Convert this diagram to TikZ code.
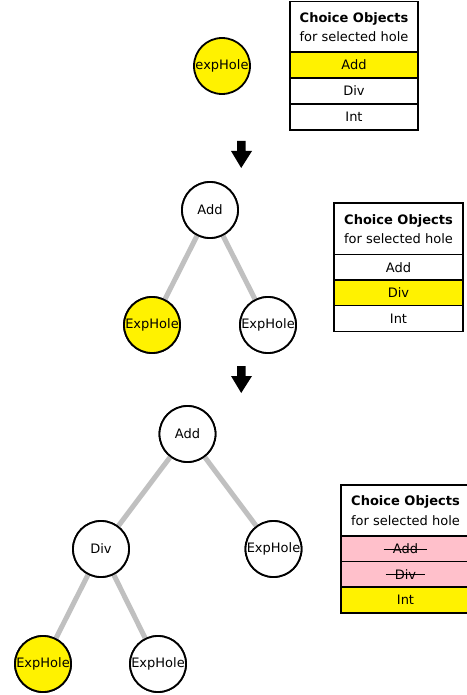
\documentclass[tikz,border=0pt]{standalone}
\usepackage{fontspec}
\setmainfont{DejaVu Sans}
\definecolor{rowpink}{HTML}{FFC0CB}
\definecolor{edgegray}{HTML}{C0C0C0}
\begin{document}
\begin{tikzpicture}[x=1pt,y=-1pt,
  every node/.style={font=\fontsize{13}{15.5}\selectfont},
  tnode/.style={circle,draw=black,line width=1.8pt,minimum size=56pt,inner sep=0pt,fill=white},
  holesel/.style={tnode,fill=yellow},
  tedge/.style={line width=5pt,draw=edgegray},
  hdr/.style={draw=black,line width=1.4pt,minimum width=#1,minimum height=51pt,inner sep=0pt,align=center,fill=white},
  rowbox/.style={draw=black,line width=1.4pt,minimum width=#1,minimum height=25.7pt,inner sep=0pt,fill=white},
  selrow/.style={fill=yellow},
  badrow/.style={fill=rowpink},
  strike/.style={inner xsep=9pt,inner ysep=0pt},
  bigarrow/.style={fill=black}
]
\useasboundingbox (0,0) rectangle (466,695);
\fill[white] (0,0) rectangle (466,695);

% ---- Stage 1 ----
\node[holesel] (h0) at (222,66) {expHole};
\node[hdr=128pt] (t1h) at (354,27) {\textbf{Choice Objects}\\[4pt]for selected hole};
\node[rowbox=128pt,selrow] (t1a) at (354,65) {Add};
\node[rowbox=128pt] (t1d) at (354,91) {Div};
\node[rowbox=128pt] (t1i) at (354,117) {Int};

% arrow 1
\fill[bigarrow] (237,141) -- (245.5,141) -- (245.5,151) -- (252,151) -- (241.2,168) -- (231,151) -- (237,151) -- cycle;

% ---- Stage 2 ----
\node[tnode] (a2) at (210,210) {Add};
\node[holesel] (l2) at (152,325) {ExpHole};
\node[tnode] (r2) at (268,325) {ExpHole};
\draw[tedge] (a2) -- (l2);
\draw[tedge] (a2) -- (r2);
\node[tnode] at (a2) {Add};
\node[holesel] at (l2) {ExpHole};
\node[tnode] at (r2) {ExpHole};

\node[hdr=129pt,minimum height=52pt] (t2h) at (398.5,229) {\textbf{Choice Objects}\\[4pt]for selected hole};
\node[rowbox=129pt] (t2a) at (398.5,267.5) {Add};
\node[rowbox=129pt,selrow] (t2d) at (398.5,293) {Div};
\node[rowbox=129pt] (t2i) at (398.5,318.5) {Int};

% arrow 2
\fill[bigarrow] (237,366) -- (245.5,366) -- (245.5,376) -- (252,376) -- (241.2,393) -- (231,376) -- (237,376) -- cycle;

% ---- Stage 3 ----
\node[tnode] (a3) at (187.5,434) {Add};
\node[tnode] (d3) at (101,549) {Div};
\node[tnode] (r3) at (273.5,549) {ExpHole};
\node[holesel] (ll3) at (43,664) {ExpHole};
\node[tnode] (lr3) at (158,664) {ExpHole};
\draw[tedge] (a3) -- (d3);
\draw[tedge] (a3) -- (r3);
\draw[tedge] (d3) -- (ll3);
\draw[tedge] (d3) -- (lr3);
\node[tnode] at (a3) {Add};
\node[tnode] at (d3) {Div};
\node[tnode] at (r3) {ExpHole};
\node[holesel] at (ll3) {ExpHole};
\node[tnode] at (lr3) {ExpHole};

\node[hdr=129pt] (t3h) at (405.5,510.5) {\textbf{Choice Objects}\\[4pt]for selected hole};
\node[rowbox=129pt,badrow] (t3a) at (405.5,549) {};
\node[rowbox=129pt,badrow] (t3d) at (405.5,574.5) {};
\node[rowbox=129pt,selrow] (t3i) at (405.5,600) {Int};
\node[strike] (s3a) at (t3a) {Add};
\node[strike] (s3d) at (t3d) {Div};
\draw[line width=1pt] (s3a.west) -- (s3a.east);
\draw[line width=1pt] (s3d.west) -- (s3d.east);
\end{tikzpicture}
\end{document}
